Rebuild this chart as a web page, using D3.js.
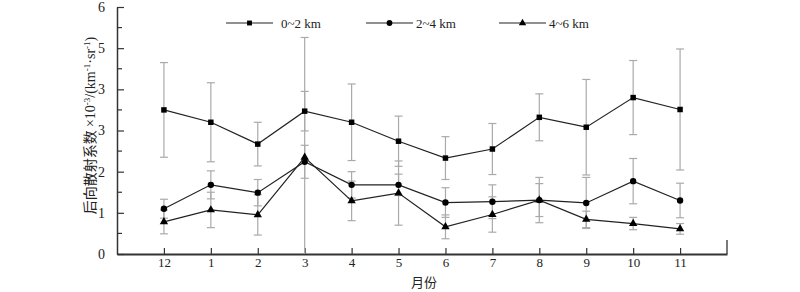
<!DOCTYPE html>
<html>

<head>
    <meta charset="utf-8">
    <script src="https://d3js.org/d3.v7.min.js"></script>
    <style>
        body {
            margin: 0;
            background: #fff;
        }

        svg text {
            font-family: "Liberation Serif", "Noto Sans CJK SC", serif;
            fill: #222;
        }
    </style>
</head>

<body>
    <div id="my_dataviz"></div>
    <script>

        // months along the x axis (December first)
        const months = ["12", "1", "2", "3", "4", "5", "6", "7", "8", "9", "10", "11"];

        // y tick labels as printed on the chart
        const yTickValues = [0, 1, 2, 3, 4, 5, 6];
        const yTickLabels = ["0", "1", "2", "3", "3", "5", "6"];

        // series means and error (half ranges)
        const mean02 = [3.50, 3.20, 2.67, 3.47, 3.20, 2.74, 2.33, 2.55, 3.32, 3.08, 3.80, 3.51];
        const err02 = [1.15, 0.96, 0.53, 0.48, 0.93, 0.61, 0.52, 0.62, 0.57, 1.16, 0.90, 1.47];
        const mean24 = [1.10, 1.68, 1.49, 2.24, 1.68, 1.68, 1.25, 1.27, 1.31, 1.24, 1.77, 1.30];
        const err24 = [0.23, 0.34, 0.32, 0.40, 0.32, 0.26, 0.36, 0.41, 0.55, 0.62, 0.55, 0.42];
        const mean46 = [0.78, 1.07, 0.95, 2.35, 1.29, 1.48, 0.66, 0.96, 1.31, 0.84, 0.74, 0.61];
        const err46 = [0.29, 0.43, 0.49, 2.91, 0.48, 0.78, 0.29, 0.43, 0.40, 0.20, 0.15, 0.13];

        const seriesNames = ["0~2 km", "2~4 km", "4~6 km"];
        const seriesSymbols = [d3.symbolSquare, d3.symbolCircle, d3.symbolTriangle];
        const seriesSizes = [30, 32, 30];

        const series = [
            { name: seriesNames[0], mean: mean02, err: err02 },
            { name: seriesNames[1], mean: mean24, err: err24 },
            { name: seriesNames[2], mean: mean46, err: err46 }
        ];

        const width = 800, height = 292;
        const svg = d3.select("#my_dataviz")
            .append("svg")
            .attr("width", width)
            .attr("height", height);

        // scales: months sit at slots 1..12, axis runs to slot 13
        const x = d3.scaleLinear().domain([0, 13]).range([117, 727]);
        const y = d3.scaleLinear().domain([0, 6]).range([254, 7]);

        // Y axis with inward ticks
        const yAxis = svg.append("g")
            .attr("transform", `translate(${x(0)},0)`)
            .call(d3.axisLeft(y)
                .tickValues(yTickValues)
                .tickFormat((d, i) => yTickLabels[i])
                .tickSizeInner(-7)
                .tickSizeOuter(0)
                .tickPadding(12));
        yAxis.select(".domain").attr("stroke", "#333").attr("stroke-width", 1.5);
        yAxis.selectAll(".tick line").attr("stroke", "#333").attr("stroke-width", 1.2);
        yAxis.selectAll(".tick text")
            .style("font-size", "14px")
            .style("font-family", "Liberation Serif");

        // minor ticks on y axis
        svg.append("g")
            .selectAll("line")
            .data(d3.range(0.5, 6, 1))
            .join("line")
            .attr("x1", x(0))
            .attr("x2", x(0) + 5)
            .attr("y1", d => y(d))
            .attr("y2", d => y(d))
            .attr("stroke", "#333")
            .attr("stroke-width", 1.2);

        // X axis with inward ticks
        const xAxis = svg.append("g")
            .attr("transform", `translate(0,${y(0)})`)
            .call(d3.axisBottom(x)
                .tickValues(d3.range(1, 13))
                .tickFormat((d) => months[d - 1])
                .tickSizeInner(-6)
                .tickSizeOuter(0)
                .tickPadding(4));
        xAxis.select(".domain").attr("stroke", "#333").attr("stroke-width", 2);
        xAxis.selectAll(".tick line").attr("stroke", "#333").attr("stroke-width", 1.2);
        xAxis.selectAll(".tick text")
            .style("font-size", "13px")
            .style("font-family", "Liberation Serif");

        // end tick at right side of the x axis
        svg.append("line")
            .attr("x1", x(13))
            .attr("x2", x(13))
            .attr("y1", y(0))
            .attr("y2", y(0) - 14)
            .attr("stroke", "#333")
            .attr("stroke-width", 1.3);

        // axis titles
        svg.append("text")
            .attr("x", x(6.5) + 2)
            .attr("y", 287)
            .attr("text-anchor", "middle")
            .style("font-size", "13px")
            .style("font-family", "Noto Sans CJK SC")
            .text("月份");

        const yTitle = svg.append("text")
            .attr("transform", `translate(95,${y(3) - 5}) rotate(-90)`)
            .attr("text-anchor", "middle")
            .style("font-size", "14px");
        yTitle.append("tspan").style("font-family", "Noto Sans CJK SC").text("后向散射系数 ");
        yTitle.append("tspan").text("×10");
        yTitle.append("tspan").attr("baseline-shift", "super").style("font-size", "9px").text("-3");
        yTitle.append("tspan").text("/(km");
        yTitle.append("tspan").attr("baseline-shift", "super").style("font-size", "9px").text("-1");
        yTitle.append("tspan").text("·sr");
        yTitle.append("tspan").attr("baseline-shift", "super").style("font-size", "9px").text("-1");
        yTitle.append("tspan").text(")");

        // error bars
        const capW = 4;
        series.forEach(s => {
            const g = svg.append("g");
            s.mean.forEach((m, i) => {
                const cx = x(i + 1);
                const top = m + s.err[i];
                const bot = Math.max(0, m - s.err[i]);
                g.append("line")
                    .attr("x1", cx).attr("x2", cx)
                    .attr("y1", y(top)).attr("y2", y(bot))
                    .attr("stroke", "#aaa").attr("stroke-width", 1.2);
                g.append("line")
                    .attr("x1", cx - capW).attr("x2", cx + capW)
                    .attr("y1", y(top)).attr("y2", y(top))
                    .attr("stroke", "#aaa").attr("stroke-width", 1.2);
                if (m - s.err[i] > 0) {
                    g.append("line")
                        .attr("x1", cx - capW).attr("x2", cx + capW)
                        .attr("y1", y(bot)).attr("y2", y(bot))
                        .attr("stroke", "#aaa").attr("stroke-width", 1.2);
                }
            });
        });

        // lines and markers
        const line = d3.line()
            .x((d, i) => x(i + 1))
            .y(d => y(d));

        series.forEach((s, k) => {
            svg.append("path")
                .datum(s.mean)
                .attr("fill", "none")
                .attr("stroke", "#222")
                .attr("stroke-width", 1.2)
                .attr("d", line);

            svg.append("g")
                .selectAll("path")
                .data(s.mean)
                .join("path")
                .attr("transform", (d, i) => `translate(${x(i + 1)},${y(d)})`)
                .attr("d", d3.symbol().type(seriesSymbols[k]).size(seriesSizes[k]))
                .attr("fill", "#000");
        });

        // legend
        const legendX = [226, 366, 499];
        const legendY = 23;
        seriesNames.forEach((name, k) => {
            const lg = svg.append("g");
            lg.append("line")
                .attr("x1", legendX[k]).attr("x2", legendX[k] + 47)
                .attr("y1", legendY).attr("y2", legendY)
                .attr("stroke", "#222").attr("stroke-width", 1.2);
            lg.append("path")
                .attr("transform", `translate(${legendX[k] + 23.5},${legendY})`)
                .attr("d", d3.symbol().type(seriesSymbols[k]).size(seriesSizes[k] - 6))
                .attr("fill", "#000");
            lg.append("text")
                .attr("x", legendX[k] + (k === 0 ? 55 : 50))
                .attr("y", legendY + 4.5)
                .style("font-size", "13px")
                .text(name);
        });

    </script>
</body>

</html>
